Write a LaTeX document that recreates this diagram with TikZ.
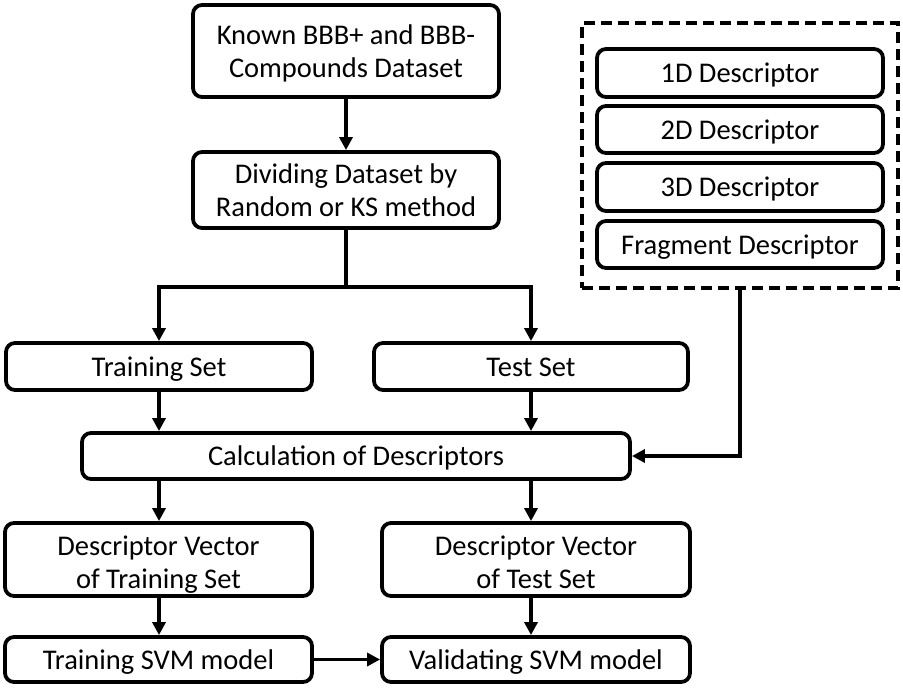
\documentclass[tikz,border=0pt]{standalone}
\usepackage{fontspec}
\setmainfont{Carlito}
\usetikzlibrary{arrows.meta}
\begin{document}
\begin{tikzpicture}[x=1pt,y=-1pt,
  box/.style={draw=black,line width=3.8pt,rounded corners=9pt,align=center,inner sep=0pt,
    font=\fontsize{28.5}{33}\selectfont},
  sbox/.style={box,text height=25pt,text depth=6pt},
  dbox/.style={draw=black,line width=3.5pt,dash pattern=on 11pt off 6pt,inner sep=0pt},
  arr/.style={line width=3.5pt,-{Triangle[length=13pt,width=13pt]}},
  ln/.style={line width=3.5pt}]
\useasboundingbox (0,0) rectangle (903,688);
\node[box,minimum width=306pt,minimum height=92pt] (known) at (346,51) {\rule{0pt}{25pt}Known BBB+ and BBB-\\Compounds Dataset};
\node[box,minimum width=306pt,minimum height=76pt] (divide) at (346,190) {Dividing Dataset by\\Random or KS method};
\node[sbox,minimum width=306pt,minimum height=47pt] (train) at (159,366.5) {Training Set};
\node[sbox,minimum width=314pt,minimum height=47pt] (test) at (531,366.5) {Test Set};
\node[sbox,minimum width=548pt,minimum height=46pt] (calc) at (356,456) {Calculation of Descriptors};
\node[box,minimum width=307pt,minimum height=73pt] (dtrain) at (158.5,559.5) {\rule{0pt}{29pt}Descriptor Vector\\of Training Set};
\node[box,minimum width=308pt,minimum height=73pt] (dtest) at (536,559.5) {\rule{0pt}{29pt}Descriptor Vector\\of Test Set\vphantom{g}};
\node[sbox,minimum width=307pt,minimum height=45pt] (svmtrain) at (158.5,659.5) {Training SVM model};
\node[sbox,minimum width=308pt,minimum height=45pt] (svmval) at (536,659.5) {Validating SVM model};
\node[dbox,minimum width=316pt,minimum height=265pt] (desc) at (740,155.5) {};
\node[sbox,minimum width=286pt,minimum height=48pt] (d1) at (740,73) {1D Descriptor};
\node[sbox,minimum width=286pt,minimum height=47pt] (d2) at (740,129.5) {2D Descriptor};
\node[sbox,minimum width=286pt,minimum height=48pt] (d3) at (740,187) {3D Descriptor};
\node[sbox,minimum width=286pt,minimum height=47pt] (d4) at (740,244.5) {Fragment Descriptor};
\coordinate (split) at (346,287);
\draw[arr] (known) -- (divide);
\draw[ln] (divide.south) -- (split);
\draw[arr] (split) -| (train.north);
\draw[arr] (split) -| (test.north);
\draw[arr] (train.south) -- (train.south |- calc.north);
\draw[arr] (test.south) -- (test.south |- calc.north);
\draw[arr] (calc.south -| train.south) -- (train.south |- dtrain.north);
\draw[arr] (calc.south -| test.south) -- (test.south |- dtest.north);
\draw[arr] (dtrain.south -| train.south) -- (train.south |- svmtrain.north);
\draw[arr] (dtest.south -| test.south) -- (test.south |- svmval.north);
\draw[arr] (svmtrain.east) -- (svmval.west);
\draw[arr] (desc.south) |- (calc.east);
\end{tikzpicture}
\end{document}
